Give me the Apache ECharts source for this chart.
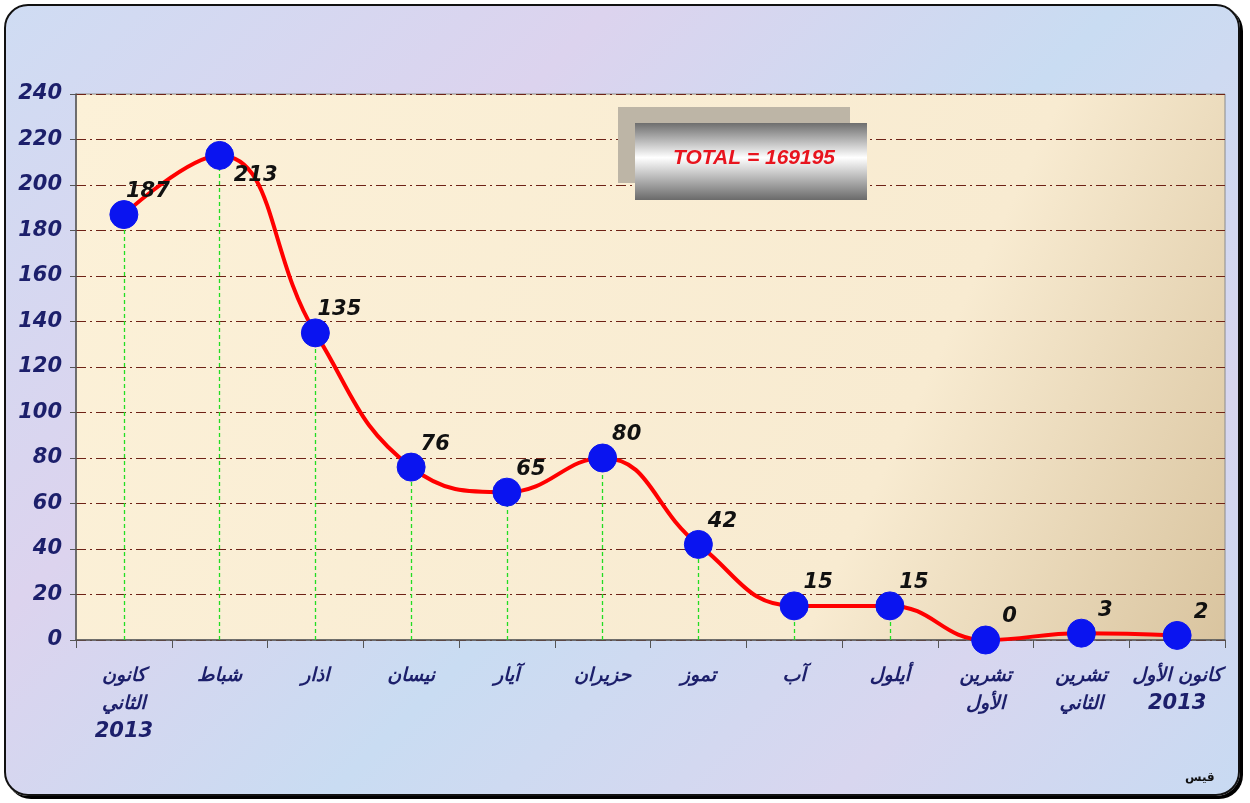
<!DOCTYPE html>
<html>
<head>
<meta charset="utf-8">
<script src="https://cdn.jsdelivr.net/npm/echarts@6/dist/echarts.min.js"></script>
<style>
   html, body { margin: 0; padding: 0; background: #fff; }
   #frame {
      position: absolute; left: 4px; top: 4px; width: 1232px; height: 788px;
      border: 2px solid #111; border-radius: 24px;
      box-shadow: 3px 3px 0 #000;
      background: linear-gradient(135deg, #cfdcf3 0%, #dcd3ee 30%, #c9dcf2 55%, #d8d6ef 80%, #c8daf2 100%);
      overflow: hidden;
   }
   #chart { position: absolute; left: 0; top: 0; width: 1250px; height: 803px; }
</style>
</head>
<body>
<div id="frame"></div>
<div id="chart"></div>
<script>
   // الأشهر
   var months = ['كانون\nالثاني\n2013', 'شباط', 'اذار', 'نيسان', 'آيار', 'حزيران', 'تموز', 'آب', 'أيلول', 'تشرين\nالأول', 'تشرين\nالثاني', 'كانون الأول\n2013'];
   var counts = [187, 213, 135, 76, 65, 80, 42, 15, 15, 0, 3, 2];
   var yTicks = [0, 20, 40, 60, 80, 100, 120, 140, 160, 180, 200, 220, 240];
   var totalText = 'TOTAL = 169195';

   var myChart = echarts.init(document.getElementById('chart'));

   // خطوط عمودية من كل نقطة الى المحور
   var dropLines = counts.map(function(v, i){
      return [{coord: [i, 0]}, {coord: [i, v]}];
   });

   var points = counts.map(function(v, i){
      var item = {value: v};
      if(i == 1){
         item.label = {offset: [36, 20]};
      }
      return item;
   });

   var option = {
      animation: false,
      grid: {
         left: 76, right: 25, top: 94, bottom: 163,
         show: true,
         borderColor: '#8a8a8a',
         borderWidth: 1,
         backgroundColor: new echarts.graphic.LinearGradient(0, 0, 1, 1, [
            {offset: 0, color: '#fcf1d8'},
            {offset: 0.7, color: '#f8ebd1'},
            {offset: 1, color: '#d9c49f'}
         ])
      },
      xAxis: {
         type: 'category',
         data: months,
         boundaryGap: true,
         axisLine: {lineStyle: {color: '#555', width: 1.5}},
         axisTick: {show: true, length: 8, inside: false, lineStyle: {color: '#555'}},
         axisLabel: {
            margin: 22,
            interval: 0,
            formatter: function(val){
               return val.split('\n').map(function(s){
                  return /^\d+$/.test(s) ? '{yr|' + s + '}' : '{ar|' + s + '}';
               }).join('\n');
            },
            rich: {
               ar: {
                  color: '#1c1f6b', fontSize: 19, lineHeight: 28,
                  fontWeight: 'bold', fontStyle: 'italic', fontFamily: 'DejaVu Sans'
               },
               yr: {
                  color: '#1c1f6b', fontSize: 21, lineHeight: 28,
                  fontWeight: 'bold', fontStyle: 'italic', fontFamily: 'DejaVu Sans'
               }
            }
         },
         splitLine: {show: false}
      },
      yAxis: {
         type: 'value',
         min: yTicks[0],
         max: yTicks[yTicks.length - 1],
         interval: 20,
         axisLine: {show: true, lineStyle: {color: '#555', width: 1.5}},
         axisTick: {show: true, length: 6, lineStyle: {color: '#555'}},
         axisLabel: {
            margin: 14,
            color: '#1c1f6b',
            fontSize: 21,
            fontWeight: 'bold',
            fontStyle: 'italic',
            fontFamily: 'DejaVu Sans'
         },
         splitLine: {lineStyle: {color: '#6e2216', width: 1, type: [10, 4, 2, 4]}}
      },
      series: [
         {
            name: 'counts',
            type: 'line',
            data: points,
            smooth: 0.45,
            symbol: 'circle',
            symbolSize: 28,
            itemStyle: {color: '#0a14f0', borderColor: '#0a14f0'},
            lineStyle: {color: '#ff0000', width: 4},
            z: 3,
            label: {
               show: true,
               position: 'inside',
               offset: [24, -23],
               color: '#111',
               fontSize: 21,
               fontWeight: 'bold',
               fontStyle: 'italic',
               fontFamily: 'DejaVu Sans'
            },
            markLine: {
               silent: true,
               symbol: 'none',
               label: {show: false},
               lineStyle: {color: '#22dd22', width: 1.3, type: [4, 3]},
               data: dropLines,
               z: 1
            }
         }
      ],
      graphic: [
         {
            type: 'rect', left: 618, top: 107, z: 10,
            shape: {width: 232, height: 76},
            style: {fill: '#bdb5a6'}
         },
         {
            type: 'rect', left: 635, top: 123, z: 11,
            shape: {width: 232, height: 77},
            style: {
               fill: new echarts.graphic.LinearGradient(0, 0, 0, 1, [
                  {offset: 0, color: '#6e6e6e'},
                  {offset: 0.45, color: '#ffffff'},
                  {offset: 1, color: '#6a6a6a'}
               ])
            }
         },
         {
            type: 'text', left: 673, top: 148, z: 12,
            style: {
               text: totalText,
               fill: '#e8141e',
               font: 'italic bold 21px "Liberation Sans"'
            }
         },
         {
            type: 'text', left: 1185, top: 772, z: 12,
            style: {
               text: 'قيس',
               fill: '#111',
               font: 'bold 12px "DejaVu Sans"'
            }
         }
      ]
   };
   myChart.setOption(option);
</script>
</body>
</html>
